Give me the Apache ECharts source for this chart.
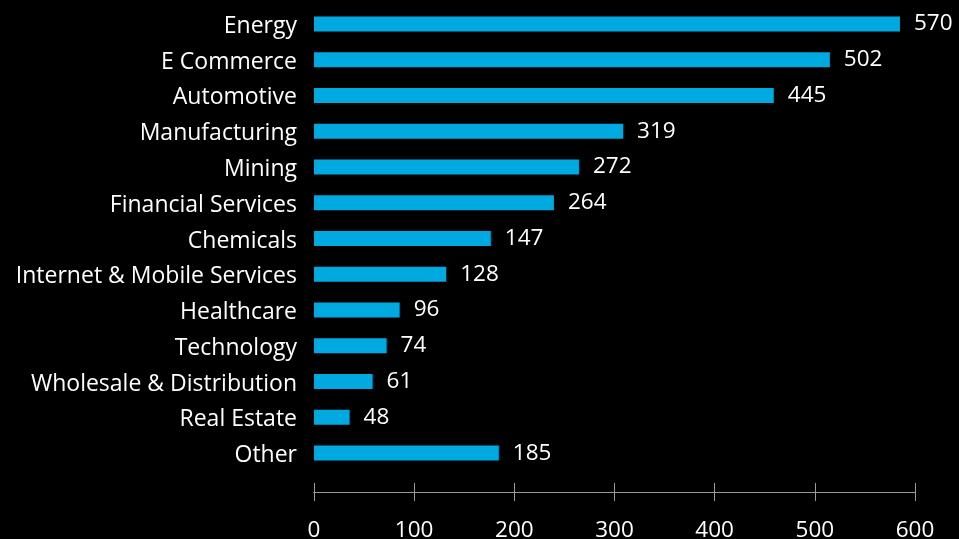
<!DOCTYPE html>
<html>
<head>
<meta charset="utf-8">
<script src="https://cdn.jsdelivr.net/npm/echarts@6/dist/echarts.min.js"></script>
<style>
html,body{margin:0;padding:0;background:#000;}
#chart{width:959px;height:539px;}
</style>
</head>
<body>
<div id="chart"></div>
<script>
const categories = ["Energy","E Commerce","Automotive","Manufacturing","Mining","Financial Services","Chemicals","Internet & Mobile Services","Healthcare","Technology","Wholesale & Distribution","Real Estate","Other"];
// bar lengths as drawn in the picture
const barValues = [585, 515, 459, 308.5, 264.5, 239.5, 176.5, 132, 85.5, 72.5, 58.5, 35.5, 184.5];
// numbers printed next to the bars
const labelValues = [570, 502, 445, 319, 272, 264, 147, 128, 96, 74, 61, 48, 185];
const xTicks = [0, 100, 200, 300, 400, 500, 600];

const chart = echarts.init(document.getElementById('chart'), null, {renderer:'canvas'});
const font = '"Open Sans", "Noto Sans", sans-serif';
const axisCommon = {
  type: 'value', min: xTicks[0], max: xTicks[xTicks.length-1], interval: xTicks[1]-xTicks[0],
  position: 'bottom', offset: 21,
  splitLine: {show:false},
  axisLine: {show:true, lineStyle:{color:'#9a9a9a', width:1}},
};
chart.setOption({
  backgroundColor: '#000000',
  animation: false,
  grid: {left: 314, right: 44, top: 6, bottom: 68, containLabel: false, outerBoundsMode: 'none'},
  xAxis: [
    Object.assign({}, axisCommon, {
      axisTick: {show:true, inside:false, length:9, lineStyle:{color:'#9a9a9a'}},
      axisLabel: {show:true, color:'#ffffff', fontSize:22.5, fontFamily:font, margin:27}
    }),
    Object.assign({}, axisCommon, {
      axisTick: {show:true, inside:true, length:9, lineStyle:{color:'#9a9a9a'}},
      axisLabel: {show:false}
    })
  ],
  yAxis: {
    type: 'category', data: categories, inverse: true,
    axisLine: {show:false}, axisTick: {show:false}, splitLine: {show:false},
    axisLabel: {
      color:'#ffffff', fontSize:23, fontFamily:font, margin:17,
      formatter: v => '{c|' + v + '}',
      rich: {c: {color:'#ffffff', fontSize:23, fontFamily:font, padding:[5,0,0,0]}}
    }
  },
  series: [{
    type: 'bar', xAxisIndex: 0, data: barValues, barWidth: 15,
    itemStyle: {color:'#00A9E0'},
    label: {show:true, position:'right', distance:14, color:'#ffffff', fontSize:22.5, fontFamily:font,
      formatter: p => String(labelValues[p.dataIndex])}
  }]
});
</script>
</body>
</html>
